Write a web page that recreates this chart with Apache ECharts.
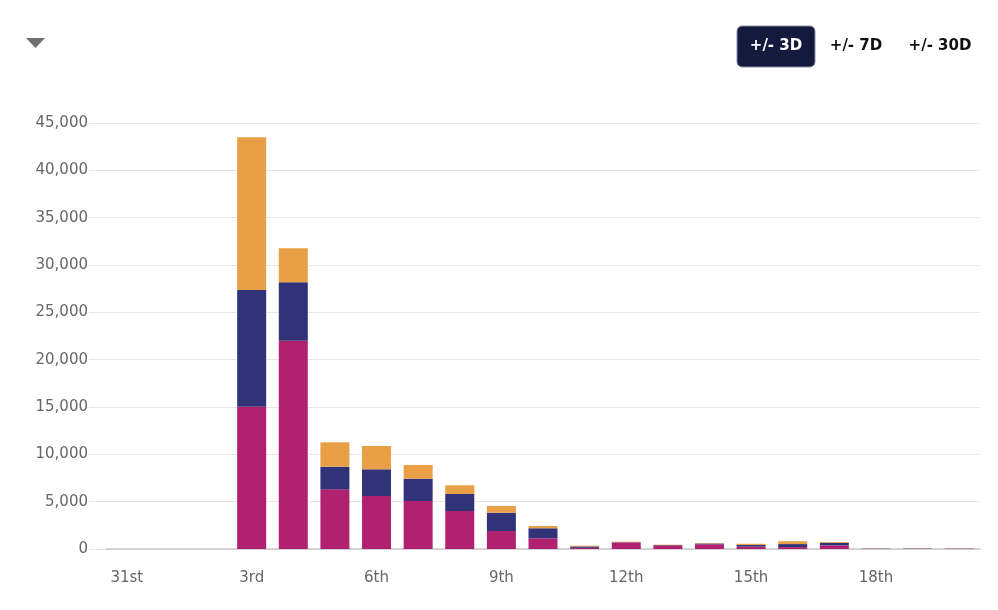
<!DOCTYPE html>
<html>
<head>
<meta charset="utf-8">
<script src="https://cdn.jsdelivr.net/npm/echarts@6/dist/echarts.min.js"></script>
<style>
  html, body { margin: 0; padding: 0; background: #fff; }
  #chart { width: 998px; height: 610px; }
</style>
</head>
<body>
<div id="chart"></div>
<script>
    var days = ['31st', '1st', '2nd', '3rd', '4th', '5th', '6th', '7th', '8th', '9th', '10th',
        '11th', '12th', '13th', '14th', '15th', '16th', '17th', '18th', '19th', '20th'];

    // stacked from bottom to top
    var pinkVals   = [0, 0, 0, 15030, 22000, 6300, 5600, 5070, 4010, 1900, 1130, 120, 690, 380, 500, 250, 200, 380, 30, 30, 30];
    var navyVals   = [0, 0, 0, 12330, 6170, 2390, 2820, 2360, 1800, 1930, 1060, 150, 30, 40, 80, 180, 320, 280, 15, 20, 15];
    var orangeVals = [0, 0, 0, 16130, 3590, 2580, 2460, 1440, 920, 710, 240, 80, 50, 40, 50, 120, 300, 80, 5, 10, 5];

    var yTicks = [0, 5000, 10000, 15000, 20000, 25000, 30000, 35000, 40000, 45000];

    var myChart = echarts.init(document.getElementById('chart'));

    function fmt(v) {
        return v.toString().replace(/\B(?=(\d{3})+(?!\d))/g, ',');
    }

    function barSeries(name, data, color) {
        return {
            name: name,
            type: 'bar',
            stack: 'total',
            barWidth: 29,
            data: data,
            itemStyle: { color: color }
        };
    }

    var option = {
        animation: false,
        backgroundColor: '#ffffff',
        grid: { left: 106, right: 18, top: 123, bottom: 61 },
        xAxis: {
            type: 'category',
            data: days,
            axisLine: { lineStyle: { color: '#c8c8c8', width: 1.5 } },
            axisTick: { show: false },
            axisLabel: {
                interval: 2,
                color: '#666666',
                fontSize: 15,
                fontFamily: 'DejaVu Sans',
                margin: 22
            }
        },
        yAxis: {
            type: 'value',
            min: yTicks[0],
            max: yTicks[yTicks.length - 1],
            interval: 5000,
            axisLine: { show: false },
            axisTick: { show: true, length: 17, lineStyle: { color: '#e6e6e6' } },
            splitLine: { lineStyle: { color: '#e6e6e6', width: 1 } },
            axisLabel: {
                color: '#666666',
                fontSize: 15,
                fontFamily: 'DejaVu Sans',
                margin: 18,
                formatter: function (v) { return fmt(v); }
            }
        },
        series: [
            barSeries('A', pinkVals, '#b0226f'),
            barSeries('B', navyVals, '#303378'),
            barSeries('C', orangeVals, '#e89f45')
        ],
        graphic: [
            {
                type: 'polygon',
                shape: { points: [[26, 38], [45, 38], [35.5, 48]] },
                style: { fill: '#707070' }
            },
            {
                type: 'rect',
                shape: { x: 737, y: 26, width: 78, height: 41, r: 5 },
                style: { fill: '#141a3c', stroke: '#8a8fa8', lineWidth: 1 }
            },
            {
                type: 'text', x: 776, y: 46,
                style: { text: '+/- 3D', fill: '#ffffff', font: 'bold 15px "DejaVu Sans"', align: 'center', verticalAlign: 'middle' }
            },
            {
                type: 'text', x: 856, y: 46,
                style: { text: '+/- 7D', fill: '#111111', font: 'bold 15px "DejaVu Sans"', align: 'center', verticalAlign: 'middle' }
            },
            {
                type: 'text', x: 940, y: 46,
                style: { text: '+/- 30D', fill: '#111111', font: 'bold 15px "DejaVu Sans"', align: 'center', verticalAlign: 'middle' }
            }
        ]
    };

    myChart.setOption(option);
</script>
</body>
</html>
